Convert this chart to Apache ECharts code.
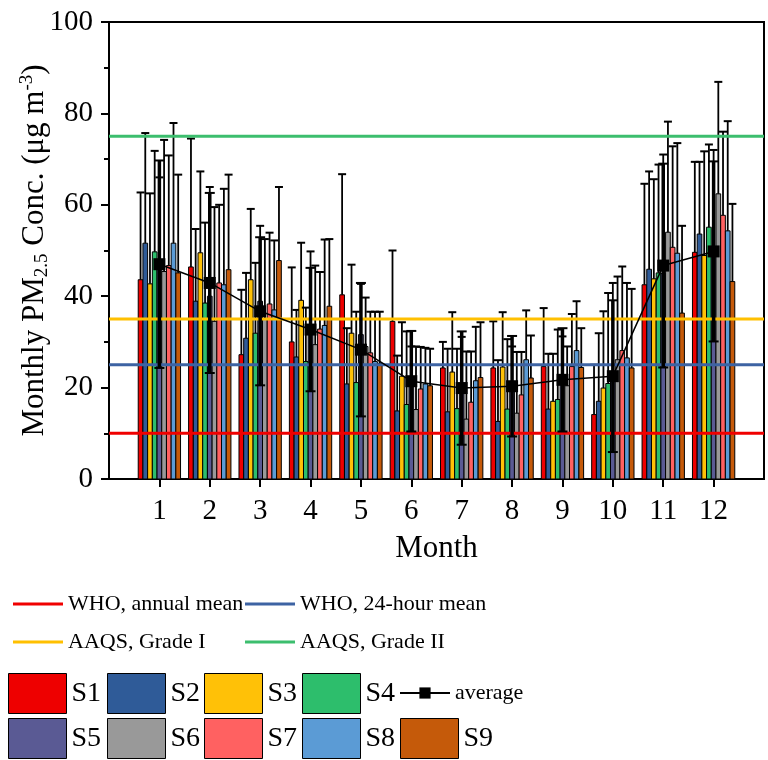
<!DOCTYPE html>
<html>
<head>
<meta charset="utf-8">
<script src="https://cdn.jsdelivr.net/npm/echarts@6/dist/echarts.min.js"></script>
<style>
  html, body { margin: 0; padding: 0; background: #fff; }
  #chart { width: 768px; height: 760px; }
</style>
</head>
<body>
<div id="chart"></div>
<script>
const months = [1, 2, 3, 4, 5, 6, 7, 8, 9, 10, 11, 12];
const siteNames = ['S1', 'S2', 'S3', 'S4', 'S5', 'S6', 'S7', 'S8', 'S9'];
const siteColors = ['#EE0000', '#2F5B98', '#FFC107', '#2DBE6C', '#5A5A94', '#999999', '#FF6161', '#5B9BD5', '#C55A0A'];

// monthly means per site
const s1 = [43.6, 46.4, 27.2, 30.0, 40.3, 34.5, 24.3, 24.3, 24.6, 14.1, 42.5, 49.6];
const s2 = [51.6, 38.9, 30.8, 26.7, 20.8, 14.9, 14.7, 12.6, 15.3, 17.0, 45.9, 53.6];
const s3 = [42.7, 49.5, 43.6, 39.1, 31.9, 22.5, 23.4, 24.5, 17.0, 19.9, 43.8, 48.9];
const s4 = [49.7, 38.5, 31.9, 25.7, 21.1, 16.3, 15.4, 15.3, 17.4, 20.9, 45.1, 55.1];
const s5 = [46.0, 40.0, 38.9, 33.0, 31.6, 21.0, 20.0, 20.0, 22.0, 22.0, 45.0, 50.0];
const s6 = [45.4, 34.5, 34.9, 29.4, 29.0, 15.2, 13.1, 14.4, 20.4, 26.1, 54.0, 62.4];
const s7 = [46.7, 42.9, 38.3, 32.8, 27.6, 19.7, 16.8, 18.4, 24.6, 28.1, 50.7, 57.7];
const s8 = [51.6, 42.5, 37.0, 33.6, 25.7, 20.8, 21.5, 26.1, 28.1, 26.5, 49.4, 54.3];
const s9 = [45.1, 45.8, 47.8, 37.8, 25.3, 20.4, 22.2, 22.1, 24.4, 24.3, 36.3, 43.2];

// standard deviations (error bars)
const s1Err = [19.1, 28.1, 14.2, 16.3, 26.4, 15.5, 5.7, 10.2, 12.8, 10.9, 22.1, 19.8];
const s2Err = [24.1, 15.8, 14.3, 10.3, 12.2, 12.1, 13.8, 13.4, 12.1, 14.9, 21.4, 15.8];
const s3Err = [19.8, 17.8, 15.5, 12.6, 15.0, 11.8, 13.1, 12.0, 10.4, 16.8, 21.8, 22.8];
const s4Err = [22.1, 17.6, 15.4, 11.8, 15.5, 16.0, 13.1, 15.3, 15.3, 19.8, 23.7, 18.1];
const s5Err = [20.0, 23.9, 16.5, 16.8, 11.1, 8.0, 11.1, 9.0, 9.2, 20.9, 26.0, 22.0];
const s6Err = [28.8, 25.0, 17.6, 17.3, 10.7, 13.8, 14.8, 13.4, 8.6, 18.2, 24.2, 24.5];
const s7Err = [24.1, 17.1, 15.6, 12.5, 9.0, 9.2, 11.1, 9.4, 11.5, 18.4, 22.1, 18.3];
const s8Err = [26.3, 21.0, 15.2, 18.8, 10.9, 7.9, 11.8, 10.8, 10.8, 16.4, 24.1, 24.0];
const s9Err = [21.5, 20.8, 16.1, 14.7, 11.3, 8.1, 12.1, 9.3, 8.6, 17.3, 19.1, 17.0];

const avg = [47.0, 42.9, 36.7, 32.7, 28.3, 21.4, 19.9, 20.3, 21.7, 22.5, 46.7, 49.8];
const avgErr = [22.7, 19.7, 16.2, 13.5, 14.6, 11.0, 12.4, 11.0, 11.3, 16.6, 22.3, 19.7];

const stdNames = ['WHO, annual mean', 'WHO, 24-hour mean', 'AAQS, Grade I', 'AAQS, Grade II'];
const stdValues = [10, 25, 35, 75];
const stdColors = ['#F00000', '#3D63A3', '#FFC000', '#3CBE6E'];

const siteMeans = [s1, s2, s3, s4, s5, s6, s7, s8, s9];
const siteErrs = [s1Err, s2Err, s3Err, s4Err, s5Err, s6Err, s7Err, s8Err, s9Err];

const FONT = 'Liberation Serif';

function siteRender(idx) {
  return function (params, api) {
    const m = api.value(0);
    const v = api.value(1);
    const sd = api.value(2);
    const base = api.coord([m, 0]);
    const top = api.coord([m, v]);
    const errTop = api.coord([m, v + sd]);
    const w = api.size([1, 0])[0] * 0.84 / 9;
    const x0 = base[0] + (idx - 4.5) * w;
    const cx = x0 + w / 2;
    const capW = w * 1.7;
    return {
      type: 'group',
      children: [
        { type: 'rect', shape: { x: x0, y: top[1], width: w, height: base[1] - top[1] },
          style: { fill: api.visual('color'), stroke: '#000', lineWidth: 1 } },
        { type: 'line', shape: { x1: cx, y1: top[1], x2: cx, y2: errTop[1] },
          style: { stroke: '#000', lineWidth: 1.8 } },
        { type: 'line', shape: { x1: cx - capW / 2, y1: errTop[1], x2: cx + capW / 2, y2: errTop[1] },
          style: { stroke: '#000', lineWidth: 2 } },
      ],
    };
  };
}

function avgErrRender(params, api) {
  const m = api.value(0);
  const v = api.value(1);
  const sd = api.value(2);
  const lo = api.coord([m, v - sd]);
  const hi = api.coord([m, v + sd]);
  const capW = 10;
  return {
    type: 'group',
    children: [
      { type: 'line', shape: { x1: lo[0], y1: lo[1], x2: hi[0], y2: hi[1] }, style: { stroke: '#000', lineWidth: 3.5 } },
      { type: 'line', shape: { x1: lo[0] - capW / 2, y1: lo[1], x2: lo[0] + capW / 2, y2: lo[1] }, style: { stroke: '#000', lineWidth: 2 } },
      { type: 'line', shape: { x1: hi[0] - capW / 2, y1: hi[1], x2: hi[0] + capW / 2, y2: hi[1] }, style: { stroke: '#000', lineWidth: 2 } },
    ],
  };
}

const series = [];
siteNames.forEach((name, i) => {
  series.push({
    name: name,
    type: 'custom',
    renderItem: siteRender(i),
    itemStyle: { color: siteColors[i] },
    data: months.map((m, k) => [m, siteMeans[i][k], siteErrs[i][k]]),
    encode: { x: 0, y: 1 },
    z: 2,
  });
});
stdNames.forEach((name, i) => {
  series.push({
    name: name,
    type: 'line',
    symbol: 'none',
    color: stdColors[i],
    itemStyle: { color: stdColors[i] },
    lineStyle: { color: stdColors[i], width: 3 },
    data: [[0, stdValues[i]], [13, stdValues[i]]],
    z: 4,
    silent: true,
  });
});
series.push({
  name: 'avgErr',
  type: 'custom',
  renderItem: avgErrRender,
  data: months.map((m, k) => [m, avg[k], avgErr[k]]),
  encode: { x: 0, y: 1 },
  z: 5,
});
series.push({
  name: 'average',
  type: 'line',
  symbol: 'rect',
  symbolSize: 12,
  color: '#000',
  itemStyle: { color: '#000' },
  lineStyle: { color: '#000', width: 1.5 },
  data: months.map((m, k) => [m, avg[k]]),
  z: 6,
});

const legends = [];
function addLegend(name, left, top, opts) {
  legends.push(Object.assign({
    data: [name],
    left: left,
    top: top,
    padding: 0,
    selectedMode: false,
    textStyle: { fontFamily: FONT, fontSize: 22, color: '#000', lineHeight: 28 },
  }, opts));
}
const lineIcon = { icon: 'rect', itemWidth: 50, itemHeight: 3 };
addLegend(stdNames[0], 13, 590, lineIcon);
addLegend(stdNames[1], 245, 590, lineIcon);
addLegend(stdNames[2], 13, 628, lineIcon);
addLegend(stdNames[3], 245, 628, lineIcon);
const boxLeft = [8, 107, 204, 302];
siteNames.forEach((name, i) => {
  const row = i < 4 ? 0 : 1;
  const col = i < 4 ? i : i - 4;
  const left = col < 4 ? boxLeft[col] : 400;
  addLegend(name, left, row === 0 ? 673 : 718, {
    icon: 'rect',
    itemWidth: 58,
    itemHeight: 40,
    itemStyle: { borderColor: '#000', borderWidth: 1 },
    textStyle: { fontFamily: FONT, fontSize: 28, color: '#000', lineHeight: 40 },
  });
});
addLegend('average', 399, 673, {
  itemWidth: 50,
  itemHeight: 14,
  textStyle: { fontFamily: FONT, fontSize: 22, color: '#000', lineHeight: 40 },
});

const chart = echarts.init(document.getElementById('chart'));
chart.setOption({
  animation: false,
  backgroundColor: '#fff',
  grid: {
    left: 109, right: 4, top: 22, bottom: 281,
    outerBoundsMode: 'none',
    show: true, borderColor: '#000', borderWidth: 2,
  },
  legend: legends,
  xAxis: {
    type: 'value',
    min: 0,
    max: 13,
    interval: 1,
    name: 'Month',
    nameLocation: 'middle',
    nameGap: 54,
    nameMoveOverlap: false,
    nameTextStyle: { fontFamily: FONT, fontSize: 31, color: '#000' },
    axisLine: { onZero: false, lineStyle: { color: '#000', width: 2 } },
    axisTick: { customValues: months, length: 8, lineStyle: { color: '#000', width: 2 } },
    axisLabel: { customValues: months, margin: 18, fontFamily: FONT, fontSize: 29, color: '#000' },
    splitLine: { show: false },
  },
  yAxis: {
    type: 'value',
    min: 0,
    max: 100,
    interval: 20,
    name: '{n|Monthly PM}{sub|2.5}{n| Conc. (μg m}{sup|-3}{n|)}',
    nameLocation: 'middle',
    nameRotate: 90,
    nameGap: 57,
    nameMoveOverlap: false,
    nameTextStyle: {
      fontFamily: FONT, fontSize: 31, color: '#000',
      rich: {
        n: { fontFamily: FONT, fontSize: 31, color: '#000', lineHeight: 34 },
        sub: { fontFamily: FONT, fontSize: 19, color: '#000', lineHeight: 12, verticalAlign: 'bottom' },
        sup: { fontFamily: FONT, fontSize: 19, color: '#000', lineHeight: 12, verticalAlign: 'top' },
      },
    },
    axisLine: { show: true, lineStyle: { color: '#000', width: 2 } },
    axisTick: { length: 8, lineStyle: { color: '#000', width: 2 } },
    minorTick: { show: true, splitNumber: 2, length: 5, lineStyle: { color: '#000', width: 2 } },
    axisLabel: { margin: 16, fontFamily: FONT, fontSize: 29, color: '#000' },
    splitLine: { show: false },
  },
  series: series,
});
</script>
</body>
</html>
